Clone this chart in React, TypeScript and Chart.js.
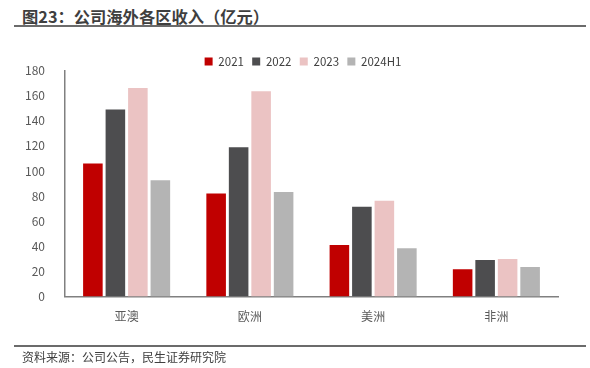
import React, { useEffect, useRef } from "react";
import { Chart, registerables } from "chart.js";

Chart.register(...registerables);

const categories = ["亚澳", "欧洲", "美洲", "非洲"];
const seriesNames = ["2021", "2022", "2023", "2024H1"];
const values2021 = [106, 82, 41, 21.7];
const values2022 = [149, 118.8, 71.5, 29];
const values2023 = [166, 163.5, 76.3, 29.8];
const values2024H1 = [92.5, 83.2, 38.4, 23.5];
const seriesColors = ["#C00000", "#4D4D4F", "#EBC3C3", "#B4B4B4"];
const yTicks = [0, 20, 40, 60, 80, 100, 120, 140, 160, 180];

const FONT = "'Noto Sans CJK SC', 'Noto Sans', sans-serif";

const legendShift = {
  id: "legendShift",
  afterLayout(chart: any) {
    const lg = chart.legend;
    if (lg) {
      lg.left += 24;
      lg.right += 24;
    }
  },
};

export default function App() {
  const canvasRef = useRef<HTMLCanvasElement | null>(null);

  useEffect(() => {
    const canvas = canvasRef.current;
    if (!canvas) return;
    const allValues = [values2021, values2022, values2023, values2024H1];
    const chart = new Chart(canvas, {
      type: "bar",
      data: {
        labels: categories,
        datasets: seriesNames.map((name, i) => ({
          label: name,
          data: allValues[i],
          backgroundColor: seriesColors[i],
          borderWidth: 0,
          barPercentage: 0.87,
          categoryPercentage: 0.73,
        })),
      },
      plugins: [legendShift],
      options: {
        animation: false,
        responsive: false,
        devicePixelRatio: 1,
        layout: { padding: { top: 47.5, left: 0, right: 32, bottom: 36.5 } },
        plugins: {
          tooltip: { enabled: false },
          legend: {
            position: "top",
            maxHeight: 23,
            labels: {
              boxWidth: 8,
              boxHeight: 8,
              padding: 8.3,
              color: "#404040",
              font: { family: FONT, size: 11.5 },
            },
          },
        },
        scales: {
          x: {
            grid: { display: false },
            border: { display: true, color: "#808080", width: 1.5 },
            ticks: {
              color: "#595959",
              padding: 5,
              font: { family: FONT, size: 12 },
            },
            afterFit: (s: any) => {
              s.height = 35;
            },
          },
          y: {
            min: 0,
            max: 180,
            grid: { display: false },
            border: { display: true, color: "#808080", width: 1.5 },
            afterBuildTicks: (s: any) => {
              s.ticks = yTicks.map((v) => ({ value: v }));
            },
            ticks: {
              color: "#595959",
              padding: 12,
              font: { family: FONT, size: 12 },
            },
            afterFit: (s: any) => {
              s.width = 65;
            },
          },
        },
      },
    });
    return () => chart.destroy();
  }, []);

  return (
    <div
      style={{
        position: "fixed",
        left: 0,
        top: 0,
        width: 590,
        height: 368,
        background: "#fff",
        overflow: "hidden",
      }}
    >
      <div
        style={{
          position: "absolute",
          left: 22,
          top: 6,
          fontFamily: FONT,
          fontWeight: 700,
          fontSize: 16.3,
          lineHeight: "20px",
          color: "#3f3f3f",
          whiteSpace: "nowrap",
        }}
      >
        图23：公司海外各区收入（亿元）
      </div>
      <div
        style={{
          position: "absolute",
          left: 14,
          top: 25,
          width: 572,
          height: 1.5,
          background: "#6b6b6b",
        }}
      />
      <canvas
        ref={canvasRef}
        width={590}
        height={368}
        style={{ position: "absolute", left: 0, top: 0, width: 590, height: 368 }}
      />
      <div
        style={{
          position: "absolute",
          left: 14,
          top: 345,
          width: 572,
          height: 1.5,
          background: "#6b6b6b",
        }}
      />
      <div
        style={{
          position: "absolute",
          left: 22,
          top: 349,
          fontFamily: FONT,
          fontSize: 12,
          lineHeight: "16px",
          color: "#404040",
          whiteSpace: "nowrap",
        }}
      >
        资料来源：公司公告，民生证券研究院
      </div>
    </div>
  );
}
